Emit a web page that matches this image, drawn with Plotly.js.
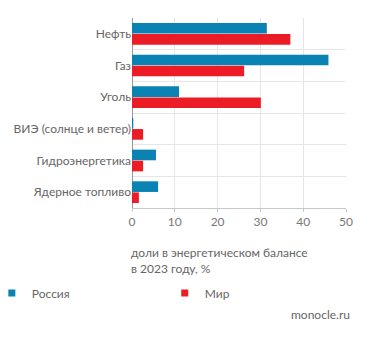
<!DOCTYPE html>
<html><head><meta charset="utf-8">
<script src="https://cdn.plot.ly/plotly-3.0.1.min.js"></script>
<style>html,body{margin:0;padding:0;background:#fff}#chart{width:371px;height:337px}</style>
</head><body><div id="chart"></div>
<script>
const categories = ["Нефть", "Газ", "Уголь", "ВИЭ (солнце и ветер)", "Гидроэнергетика", "Ядерное топливо"];
const russia = [31.5, 45.9, 11.0, 0.3, 5.6, 6.1];
const world = [37.0, 26.2, 30.1, 2.6, 2.6, 1.6];
const seriesNames = ["Россия", "Мир"];
const xTicks = [0, 10, 20, 30, 40, 50];
const xTitle = "доли в энергетическом балансе<br>в 2023 году, %";
const source = "monocle.ru";

const FONT = "Lato, 'Noto Sans', sans-serif";
const COLORS = ["#0a82b4", "#ec1c26"];
const traces = [
  {type: "bar", orientation: "h", name: seriesNames[0], y: categories, x: russia,
   marker: {color: COLORS[0]}, showlegend: false, hoverinfo: "x"},
  {type: "bar", orientation: "h", name: seriesNames[1], y: categories, x: world,
   marker: {color: COLORS[1]}, showlegend: false, hoverinfo: "x"},
  {type: "scatter", mode: "markers", name: seriesNames[0], x: [null], y: [null],
   marker: {color: COLORS[0], symbol: "square", size: 7}, legend: "legend", showlegend: true},
  {type: "scatter", mode: "markers", name: seriesNames[1], x: [null], y: [null],
   marker: {color: COLORS[1], symbol: "square", size: 7}, legend: "legend2", showlegend: true}
];
const legendBase = {orientation: "h", xanchor: "left", yanchor: "middle", y: -0.447,
  itemwidth: 30, bgcolor: "rgba(0,0,0,0)", font: {size: 12, color: "#666"}};
const layout = {
  width: 371, height: 337,
  margin: {l: 132, r: 25, t: 18, b: 129, autoexpand: false},
  paper_bgcolor: "#fff", plot_bgcolor: "#fff",
  font: {family: FONT, size: 12, color: "#666"},
  barmode: "group", bargap: 0.3, bargroupgap: 0.04,
  xaxis: {range: [0, 50], tickvals: xTicks, ticktext: xTicks.map(String),
          showgrid: true, gridcolor: "#e6e6e6", zeroline: true, zerolinecolor: "#9a9a9a",
          zerolinewidth: 1, showline: true, linecolor: "#c8c8c8",
          ticks: "outside", ticklen: 3, tickcolor: "#c8c8c8",
          tickfont: {size: 12, color: "#777"}, fixedrange: true},
  yaxis: {type: "category", autorange: "reversed", tickson: "boundaries",
          showgrid: true, gridcolor: "#e6e6e6", ticks: "", ticklen: 0,
          tickfont: {size: 12, color: "#666"}, fixedrange: true},
  showlegend: true,
  legend: Object.assign({}, legendBase, {x: -0.655}),
  legend2: Object.assign({}, legendBase, {x: 0.153}),
  annotations: [
    {text: xTitle, xref: "paper", yref: "paper", x: -0.014, y: -0.182, xanchor: "left", yanchor: "top",
     align: "left", showarrow: false, font: {size: 12, color: "#666"}},
    {text: source, xref: "paper", yref: "paper", x: 1.03, y: -0.56, xanchor: "right", yanchor: "middle",
     showarrow: false, font: {size: 12, color: "#666"}}
  ]
};
Plotly.newPlot("chart", traces, layout, {displayModeBar: false, staticPlot: true});
</script></body></html>
